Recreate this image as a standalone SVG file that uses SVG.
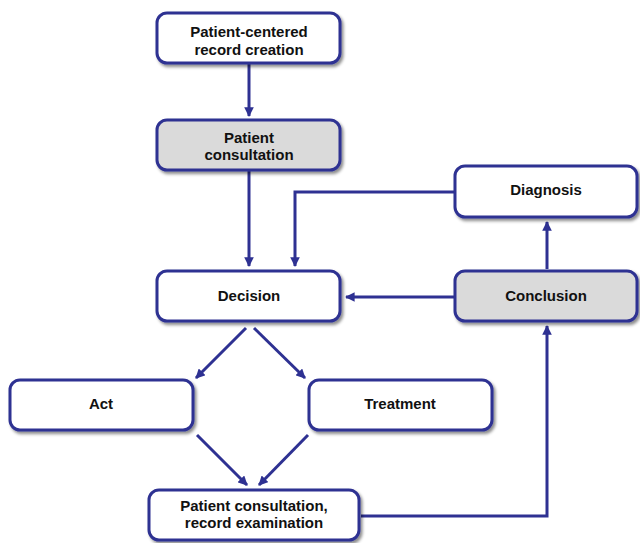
<svg xmlns="http://www.w3.org/2000/svg" width="640" height="543" viewBox="0 0 640 543">
<style>
.box{fill:#fff;stroke:#2E3192;stroke-width:3;filter:url(#sh)}
.gray{fill:#DADADA}
.t{font-family:"Liberation Sans",Arial,sans-serif;font-weight:bold;font-size:15px;fill:#111;text-anchor:middle}
.c{fill:none;stroke:#2E3192;stroke-width:3;marker-end:url(#ah)}
</style>
<defs>
<filter id="sh" x="-10%" y="-20%" width="130%" height="150%">
<feDropShadow dx="2" dy="2.5" stdDeviation="1.5" flood-color="#000" flood-opacity="0.45"/>
</filter>
<marker id="ah" viewBox="0 0 10 10" refX="9" refY="5" markerWidth="3.2" markerHeight="3.2" orient="auto" markerUnits="strokeWidth">
<path d="M0,0 L10,5 L0,10 Z" fill="#2E3192"/>
</marker>
</defs>
<g id="connectors">
<path class="c" d="M249,64 V116"/>
<path class="c" d="M249,171 V266"/>
<path class="c" d="M454,192 H295 V266"/>
<path class="c" d="M454,297 H346"/>
<path class="c" d="M547,269 V222"/>
<path class="c" d="M246,328 L196,378"/>
<path class="c" d="M254,328 L305,378"/>
<path class="c" d="M197,435 L247,485"/>
<path class="c" d="M308,435 L259,485"/>
<path class="c" d="M361,516 H547 V326"/>
</g>
<g id="n1"><rect class="box" x="157" y="13" width="183" height="50" rx="10"/>
<text class="t" x="249" y="37">Patient-centered</text><text class="t" x="249" y="55">record creation</text></g>
<g id="n2"><rect class="box gray" x="157" y="120" width="183" height="50" rx="10"/>
<text class="t" x="249" y="143">Patient</text><text class="t" x="249" y="160">consultation</text></g>
<g id="n3"><rect class="box" x="157" y="271" width="183" height="50" rx="10"/>
<text class="t" x="249" y="301">Decision</text></g>
<g id="n4"><rect class="box" x="455" y="166" width="182" height="51" rx="10"/>
<text class="t" x="546" y="195">Diagnosis</text></g>
<g id="n5"><rect class="box gray" x="455" y="271" width="182" height="50" rx="10"/>
<text class="t" x="546" y="301">Conclusion</text></g>
<g id="n6"><rect class="box" x="10" y="380" width="183" height="50" rx="10"/>
<text class="t" x="101" y="409">Act</text></g>
<g id="n7"><rect class="box" x="309" y="380" width="183" height="50" rx="10"/>
<text class="t" x="400" y="409">Treatment</text></g>
<g id="n8"><rect class="box" x="149" y="490" width="210" height="50" rx="10"/>
<text class="t" x="254" y="511">Patient consultation,</text><text class="t" x="254" y="528">record examination</text></g>
</svg>
